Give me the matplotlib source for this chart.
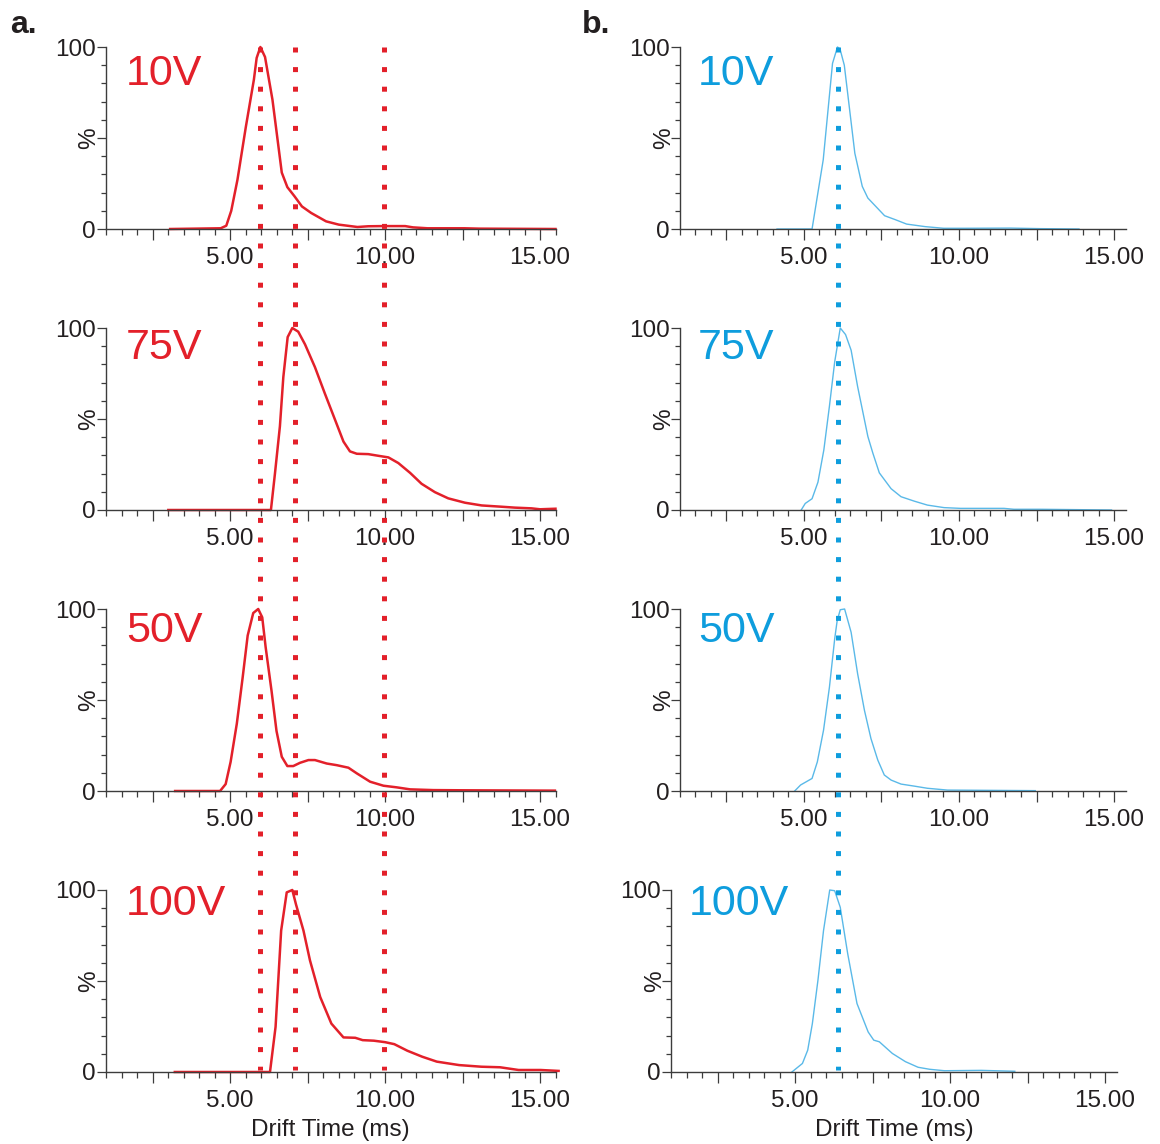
import matplotlib
matplotlib.use("Agg")
import matplotlib.pyplot as plt
from matplotlib.ticker import MultipleLocator, FuncFormatter
from matplotlib.transforms import blended_transform_factory
from matplotlib.lines import Line2D

plt.rcParams['font.family'] = ['Liberation Sans', 'DejaVu Sans']

RED = '#e3202a'
BLUE_TEXT = '#0e9ddd'
BLUE_LINE = '#5ab9e8'
INK = '#231f20'
AXIS = '#3c3c3c'

voltages = ['10V', '75V', '50V', '100V']

# ---- series a: drift time (ms) and relative intensity (%) ----
a10_t = [3.07, 4.70, 4.88, 5.04, 5.24, 5.51, 5.77, 5.86, 5.98, 6.13, 6.37, 6.67, 6.85,
         7.08, 7.32, 7.62, 8.10, 8.51, 9.11, 9.46, 9.94, 10.65, 10.90, 11.37, 12.56,
         13.04, 15.50]
a10_i = [0, 0.4, 1.8, 10, 27, 56, 82, 94, 100, 94.5, 71, 31, 23,
         18, 12.4, 8.8, 4.2, 2.4, 1.1, 1.5, 1.6, 1.6, 0.9, 0.4, 0.4,
         0.2, 0]

a75_t = [3.01, 6.32, 6.45, 6.61, 6.72, 6.86, 7.01, 7.20, 7.42, 7.74, 8.06, 8.39, 8.66,
         8.87, 9.09, 9.46, 9.78, 10.11, 10.43, 10.81, 11.18, 11.61, 12.04, 12.58,
         13.12, 13.76, 14.19, 14.73, 15.00, 15.50]
a75_i = [0, 0, 20, 46, 73, 95, 100, 98, 91, 78.5, 64, 49.5, 37.6,
         32.2, 30.9, 30.7, 29.8, 28.9, 25.8, 20.4, 14.4, 9.8, 6.4, 4.0,
         2.5, 1.8, 1.3, 0.9, 0.4, 0.7]

a50_t = [3.23, 4.68, 4.86, 5.02, 5.22, 5.41, 5.57, 5.75, 5.91, 6.04, 6.15, 6.34, 6.50,
         6.67, 6.85, 7.04, 7.26, 7.53, 7.74, 8.12, 8.44, 8.82, 9.09, 9.52, 9.95,
         10.38, 10.81, 11.56, 12.42, 15.48]
a50_i = [0, 0, 3.8, 16, 37, 62.6, 85.4, 97.8, 100, 95.4, 79, 55, 33,
         18.8, 13.7, 13.7, 15.5, 17, 17, 15.1, 14.2, 12.8, 9.7, 5.1, 2.9,
         2.0, 0.9, 0.5, 0.4, 0.2]

a100_t = [3.22, 6.29, 6.47, 6.65, 6.83, 7.01, 7.13, 7.37, 7.58, 7.91, 8.27, 8.66, 9.04,
          9.28, 9.64, 10.00, 10.30, 10.72, 11.20, 11.67, 12.39, 13.11, 13.71, 14.31,
          15.02, 15.60]
a100_i = [0, 0, 24.8, 77.7, 98.7, 100, 92, 77.7, 61.3, 41.2, 26.6, 19, 18.8,
          17.5, 17.2, 16.4, 15.3, 11.7, 8.4, 5.7, 3.8, 2.9, 2.6, 1.1,
          1.1, 0.6]

# ---- series b ----
b10_t = [4.13, 5.26, 5.62, 5.92, 6.08, 6.16, 6.30, 6.64, 6.88, 7.06, 7.60, 7.95, 8.31,
         8.91, 9.50, 10.22, 11.66, 12.61, 13.87]
b10_i = [0, 0, 38, 91, 100, 99, 90, 41.6, 23.4, 17, 7.3, 5.1, 2.7,
         1.3, 0.4, 0.4, 0.5, 0.2, 0]

b75_t = [4.91, 5.04, 5.26, 5.45, 5.64, 5.82, 5.99, 6.17, 6.34, 6.52, 6.73, 7.06, 7.22,
         7.43, 7.81, 8.13, 8.55, 8.98, 9.52, 10.05, 11.45, 11.77, 12.62, 14.92]
b75_i = [0, 3.6, 6.2, 15.3, 33, 57, 81.4, 100, 96.4, 87.8, 67.8, 40.4, 31.3,
         20.4, 11.7, 7.3, 4.9, 2.7, 1.3, 0.9, 0.9, 0.4, 0.4, 0]

b50_t = [4.70, 4.89, 5.26, 5.43, 5.63, 5.82, 5.99, 6.07, 6.17, 6.31, 6.52, 6.73, 6.95,
         7.16, 7.38, 7.59, 7.81, 8.13, 8.55, 8.98, 9.63, 12.46]
b50_i = [0, 3.3, 6.9, 16, 33.4, 57, 83.6, 93.6, 99.6, 100, 87.2, 64.4, 44.3,
         28.8, 17, 8.8, 6.0, 3.8, 2.7, 1.5, 0.5, 0.2]

b100_t = [4.90, 5.24, 5.41, 5.56, 5.74, 5.92, 6.12, 6.28, 6.46, 6.70, 7.00, 7.36, 7.54,
          7.72, 8.14, 8.56, 8.97, 9.34, 9.82, 11.01, 12.09]
b100_i = [0, 4.7, 12, 26.6, 50.4, 77.7, 100, 99.6, 90.5, 65, 37.6, 22, 17.5,
          16.6, 10.2, 5.7, 2.6, 1.5, 0.7, 0.9, 0.4]

series_a = [(a10_t, a10_i), (a75_t, a75_i), (a50_t, a50_i), (a100_t, a100_i)]
series_b = [(b10_t, b10_i), (b75_t, b75_i), (b50_t, b50_i), (b100_t, b100_i)]

# reference drift times marked across each column
markers_a = [5.98, 7.10, 9.97]
markers_b = [6.10]

W, H = 1160, 1144
fig = plt.figure(figsize=(W / 100, H / 100), dpi=100)

px_per_ms = 31.0
row_top = [47, 328, 609, 890]
row_h = 182
label_base = [38, 31, 33, 25]


def fmt_x(v, pos):
    return f'{v:.2f}' if v > 0 and abs(v / 5 - round(v / 5)) < 1e-6 else ''


def fmt_y(v, pos):
    return {0: '0', 100: '100'}.get(int(round(v)), '')


def make_axes(left_px, xmax, row):
    width = (xmax - 1.0) * px_per_ms
    ax = fig.add_axes([left_px / W, 1 - (row_top[row] + row_h) / H, width / W, row_h / H])
    ax.set_xlim(1.0, xmax)
    ax.set_ylim(0, 100)
    for s in ('top', 'right'):
        ax.spines[s].set_visible(False)
    for s in ('left', 'bottom'):
        ax.spines[s].set_color(AXIS)
        ax.spines[s].set_linewidth(1.0)
    ax.xaxis.set_major_locator(MultipleLocator(2.5))
    ax.xaxis.set_minor_locator(MultipleLocator(0.5))
    ax.yaxis.set_major_locator(MultipleLocator(50))
    ax.yaxis.set_minor_locator(MultipleLocator(10))
    ax.xaxis.set_major_formatter(FuncFormatter(fmt_x))
    ax.yaxis.set_major_formatter(FuncFormatter(fmt_y))
    ax.tick_params(axis='x', which='major', direction='out', length=7.9, width=0.9,
                   color=AXIS, labelsize=17.5, labelcolor=INK, pad=5)
    ax.tick_params(axis='x', which='minor', direction='out', length=4.3, width=0.9, color=AXIS)
    ax.tick_params(axis='y', which='major', direction='out', length=6.5, width=0.9,
                   color=AXIS, labelsize=17.5, labelcolor=INK, pad=1)
    ax.tick_params(axis='y', which='minor', direction='out', length=3.6, width=0.9, color=AXIS)
    ax.set_ylabel('%', fontsize=17.5, color=INK)
    ax.yaxis.set_label_coords(-0.012, 0.5)
    return ax


axes_a, axes_b = [], []
for r in range(4):
    ax = make_axes(106, 15.5, r)
    t, i = series_a[r]
    ax.plot(t, i, color=RED, lw=1.8, clip_on=False, solid_joinstyle='round')
    ax.text(20 / ((15.5 - 1.0) * px_per_ms), 1 - label_base[r] / row_h, voltages[r],
            transform=ax.transAxes, color=RED, fontsize=31, va='baseline', ha='left')
    axes_a.append(ax)

    left_b = 680 if r < 3 else 671
    ax = make_axes(left_b, 15.4, r)
    t, i = series_b[r]
    ax.plot(t, i, color=BLUE_LINE, lw=1.0, clip_on=False)
    ax.text(18 / ((15.4 - 1.0) * px_per_ms), 1 - label_base[r] / row_h, voltages[r],
            transform=ax.transAxes, color=BLUE_TEXT, fontsize=31, va='baseline', ha='left')
    axes_b.append(ax)

for ax in (axes_a[-1], axes_b[-1]):
    ax.set_xlabel('Drift Time (ms)', fontsize=17.5, color=INK, labelpad=5)

# dotted guides running down each column
y_top = 1 - 47 / H
y_bot = 1 - 1070 / H
for col_axes, xs, colour in ((axes_a, markers_a, RED), (axes_b, markers_b, BLUE_TEXT)):
    trans = blended_transform_factory(col_axes[0].transData, fig.transFigure)
    for x in xs:
        fig.add_artist(Line2D([x, x], [y_top, y_bot], transform=trans, color=colour,
                              lw=3.6, linestyle=(0, (1, 2.92)), dash_capstyle='butt',
                              zorder=5))

fig.text(10 / W, 1 - 33 / H, 'a.', fontsize=23, fontweight='bold', color=INK, va='baseline')
fig.text(582 / W, 1 - 33 / H, 'b.', fontsize=23, fontweight='bold', color=INK, va='baseline')

fig.savefig('out.png', dpi=100, facecolor='white')
